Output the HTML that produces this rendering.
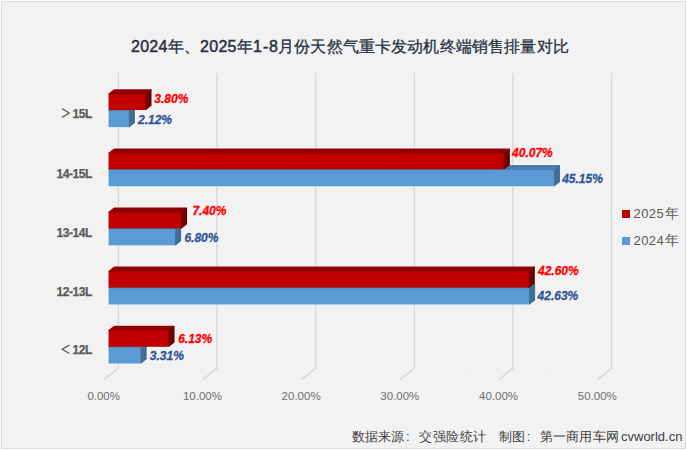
<!DOCTYPE html>
<html><head><meta charset="utf-8">
<style>
html,body{margin:0;padding:0;background:#FFFFFF;}
body{width:687px;height:450px;position:relative;overflow:hidden;font-family:"Liberation Sans",sans-serif;}
.frame{position:absolute;left:1px;top:1px;width:683px;height:446px;background:#F2F2F2;border:1px solid #DBDBDB;}
svg{position:absolute;left:0;top:0;}
.t{position:absolute;white-space:nowrap;line-height:1;}
.title{left:131px;top:39px;font-size:16px;letter-spacing:0.25px;font-weight:normal;-webkit-text-stroke:0.5px #2B3241;color:#2B3241;}
.cj{font-weight:500;-webkit-text-stroke:0.3px #2B3241;}
.cat{font-size:12px;font-weight:bold;color:#595959;text-align:right;width:60px;letter-spacing:-0.42px;-webkit-text-stroke:0.25px #595959;}
.ax{font-size:11.5px;color:#6F6F6F;}
.dl{font-size:12px;font-weight:bold;font-style:italic;-webkit-text-stroke:0.3px currentColor;}
.r{color:#FF0000;} .b{color:#2F5597;}
.leg{font-size:13px;color:#595959;}
.lj{font-size:13.8px;}
.sq{position:absolute;width:8px;height:8px;}
.foot{font-size:13px;color:#404040;}
</style></head><body>
<div class="frame"></div>
<svg width="687" height="450" viewBox="0 0 687 450">
<polyline points="138.03,73 138.03,368.2 123.44,379.7" fill="none" stroke="#F0F0F0" stroke-width="1"/>
<polyline points="157.76,73 157.76,368.2 143.19,379.7" fill="none" stroke="#F0F0F0" stroke-width="1"/>
<polyline points="177.5,73 177.5,368.2 162.93,379.7" fill="none" stroke="#F0F0F0" stroke-width="1"/>
<polyline points="197.23,73 197.23,368.2 182.68,379.7" fill="none" stroke="#F0F0F0" stroke-width="1"/>
<polyline points="236.69,73 236.69,368.2 222.16,379.7" fill="none" stroke="#F0F0F0" stroke-width="1"/>
<polyline points="256.42,73 256.42,368.2 241.91,379.7" fill="none" stroke="#F0F0F0" stroke-width="1"/>
<polyline points="276.16,73 276.16,368.2 261.65,379.7" fill="none" stroke="#F0F0F0" stroke-width="1"/>
<polyline points="295.89,73 295.89,368.2 281.4,379.7" fill="none" stroke="#F0F0F0" stroke-width="1"/>
<polyline points="335.35,73 335.35,368.2 320.88,379.7" fill="none" stroke="#F0F0F0" stroke-width="1"/>
<polyline points="355.08,73 355.08,368.2 340.63,379.7" fill="none" stroke="#F0F0F0" stroke-width="1"/>
<polyline points="374.82,73 374.82,368.2 360.37,379.7" fill="none" stroke="#F0F0F0" stroke-width="1"/>
<polyline points="394.55,73 394.55,368.2 380.12,379.7" fill="none" stroke="#F0F0F0" stroke-width="1"/>
<polyline points="434.01,73 434.01,368.2 419.6,379.7" fill="none" stroke="#F0F0F0" stroke-width="1"/>
<polyline points="453.74,73 453.74,368.2 439.35,379.7" fill="none" stroke="#F0F0F0" stroke-width="1"/>
<polyline points="473.48,73 473.48,368.2 459.09,379.7" fill="none" stroke="#F0F0F0" stroke-width="1"/>
<polyline points="493.21,73 493.21,368.2 478.84,379.7" fill="none" stroke="#F0F0F0" stroke-width="1"/>
<polyline points="532.67,73 532.67,368.2 518.32,379.7" fill="none" stroke="#F0F0F0" stroke-width="1"/>
<polyline points="552.4,73 552.4,368.2 538.07,379.7" fill="none" stroke="#F0F0F0" stroke-width="1"/>
<polyline points="572.14,73 572.14,368.2 557.81,379.7" fill="none" stroke="#F0F0F0" stroke-width="1"/>
<polyline points="591.87,73 591.87,368.2 577.56,379.7" fill="none" stroke="#F0F0F0" stroke-width="1"/>
<polyline points="118.3,73 118.3,368.2 103.7,379.7" fill="none" stroke="#D6D6D6" stroke-width="1.3"/>
<polyline points="216.96,73 216.96,368.2 202.42,379.7" fill="none" stroke="#D6D6D6" stroke-width="1.3"/>
<polyline points="315.62,73 315.62,368.2 301.14,379.7" fill="none" stroke="#D6D6D6" stroke-width="1.3"/>
<polyline points="414.28,73 414.28,368.2 399.86,379.7" fill="none" stroke="#D6D6D6" stroke-width="1.3"/>
<polyline points="512.94,73 512.94,368.2 498.58,379.7" fill="none" stroke="#D6D6D6" stroke-width="1.3"/>
<polyline points="611.6,73 611.6,368.2 597.3,379.7" fill="none" stroke="#D6D6D6" stroke-width="1.3"/>
<polygon points="108.5,127.2 108.5,110.1 114,105.8 134.95,105.8 134.95,122.9 129.45,127.2" fill="none" stroke="#FFFFFF" stroke-opacity="0.8" stroke-width="1.6" stroke-linejoin="round"/>
<polygon points="108.5,110.1 108.5,93.6 114,89.3 151.54,89.3 151.54,105.8 146.04,110.1" fill="none" stroke="#FFFFFF" stroke-opacity="0.8" stroke-width="1.6" stroke-linejoin="round"/>
<rect x="108.5" y="109.5" width="20.95" height="17.7" fill="#5B9BD5"/>
<polygon points="108.5,110.7 108.5,110.1 114,105.8 134.95,105.8 134.95,106.4 129.45,110.7" fill="#4A7EB0"/>
<polygon points="128.85,110.1 129.45,110.1 134.95,105.8 134.95,122.9 129.45,127.2 128.85,127.2" fill="#3F6E99"/>
<rect x="108.5" y="93.6" width="37.54" height="16.5" fill="#C00000"/>
<polygon points="108.5,94.2 108.5,93.6 114,89.3 151.54,89.3 151.54,89.9 146.04,94.2" fill="#8F0000"/>
<polygon points="145.44,93.6 146.04,93.6 151.54,89.3 151.54,105.8 146.04,110.1 145.44,110.1" fill="#6E0000"/>
<polygon points="108.5,186.3 108.5,169.28 114,164.98 560.08,164.98 560.08,182 554.58,186.3" fill="none" stroke="#FFFFFF" stroke-opacity="0.8" stroke-width="1.6" stroke-linejoin="round"/>
<polygon points="108.5,169.28 108.5,152.7 114,148.4 509.89,148.4 509.89,164.98 504.39,169.28" fill="none" stroke="#FFFFFF" stroke-opacity="0.8" stroke-width="1.6" stroke-linejoin="round"/>
<rect x="108.5" y="168.68" width="446.08" height="17.62" fill="#5B9BD5"/>
<polygon points="108.5,169.88 108.5,169.28 114,164.98 560.08,164.98 560.08,165.58 554.58,169.88" fill="#4A7EB0"/>
<polygon points="553.98,169.28 554.58,169.28 560.08,164.98 560.08,182 554.58,186.3 553.98,186.3" fill="#3F6E99"/>
<rect x="108.5" y="152.7" width="395.89" height="16.58" fill="#C00000"/>
<polygon points="108.5,153.3 108.5,152.7 114,148.4 509.89,148.4 509.89,149 504.39,153.3" fill="#8F0000"/>
<polygon points="503.79,152.7 504.39,152.7 509.89,148.4 509.89,164.98 504.39,169.28 503.79,169.28" fill="#6E0000"/>
<polygon points="108.5,245.4 108.5,228.46 114,224.16 181.18,224.16 181.18,241.1 175.68,245.4" fill="none" stroke="#FFFFFF" stroke-opacity="0.8" stroke-width="1.6" stroke-linejoin="round"/>
<polygon points="108.5,228.46 108.5,211.8 114,207.5 187.11,207.5 187.11,224.16 181.61,228.46" fill="none" stroke="#FFFFFF" stroke-opacity="0.8" stroke-width="1.6" stroke-linejoin="round"/>
<rect x="108.5" y="227.86" width="67.18" height="17.54" fill="#5B9BD5"/>
<polygon points="108.5,229.06 108.5,228.46 114,224.16 181.18,224.16 181.18,224.76 175.68,229.06" fill="#4A7EB0"/>
<polygon points="175.08,228.46 175.68,228.46 181.18,224.16 181.18,241.1 175.68,245.4 175.08,245.4" fill="#3F6E99"/>
<rect x="108.5" y="211.8" width="73.11" height="16.66" fill="#C00000"/>
<polygon points="108.5,212.4 108.5,211.8 114,207.5 187.11,207.5 187.11,208.1 181.61,212.4" fill="#8F0000"/>
<polygon points="181.01,211.8 181.61,211.8 187.11,207.5 187.11,224.16 181.61,228.46 181.01,228.46" fill="#6E0000"/>
<polygon points="108.5,304.5 108.5,287.64 114,283.34 535.18,283.34 535.18,300.2 529.68,304.5" fill="none" stroke="#FFFFFF" stroke-opacity="0.8" stroke-width="1.6" stroke-linejoin="round"/>
<polygon points="108.5,287.64 108.5,270.9 114,266.6 534.89,266.6 534.89,283.34 529.39,287.64" fill="none" stroke="#FFFFFF" stroke-opacity="0.8" stroke-width="1.6" stroke-linejoin="round"/>
<rect x="108.5" y="287.04" width="421.18" height="17.46" fill="#5B9BD5"/>
<polygon points="108.5,288.24 108.5,287.64 114,283.34 535.18,283.34 535.18,283.94 529.68,288.24" fill="#4A7EB0"/>
<polygon points="529.08,287.64 529.68,287.64 535.18,283.34 535.18,300.2 529.68,304.5 529.08,304.5" fill="#3F6E99"/>
<rect x="108.5" y="270.9" width="420.89" height="16.74" fill="#C00000"/>
<polygon points="108.5,271.5 108.5,270.9 114,266.6 534.89,266.6 534.89,267.2 529.39,271.5" fill="#8F0000"/>
<polygon points="528.79,270.9 529.39,270.9 534.89,266.6 534.89,283.34 529.39,287.64 528.79,287.64" fill="#6E0000"/>
<polygon points="108.5,363.6 108.5,346.82 114,342.52 146.7,342.52 146.7,359.3 141.2,363.6" fill="none" stroke="#FFFFFF" stroke-opacity="0.8" stroke-width="1.6" stroke-linejoin="round"/>
<polygon points="108.5,346.82 108.5,330 114,325.7 174.56,325.7 174.56,342.52 169.06,346.82" fill="none" stroke="#FFFFFF" stroke-opacity="0.8" stroke-width="1.6" stroke-linejoin="round"/>
<rect x="108.5" y="346.22" width="32.7" height="17.38" fill="#5B9BD5"/>
<polygon points="108.5,347.42 108.5,346.82 114,342.52 146.7,342.52 146.7,343.12 141.2,347.42" fill="#4A7EB0"/>
<polygon points="140.6,346.82 141.2,346.82 146.7,342.52 146.7,359.3 141.2,363.6 140.6,363.6" fill="#3F6E99"/>
<rect x="108.5" y="330" width="60.56" height="16.82" fill="#C00000"/>
<polygon points="108.5,330.6 108.5,330 114,325.7 174.56,325.7 174.56,326.3 169.06,330.6" fill="#8F0000"/>
<polygon points="168.46,330 169.06,330 174.56,325.7 174.56,342.52 169.06,346.82 168.46,346.82" fill="#6E0000"/>
<polyline points="62,108.6 69.2,113 62,117.4" fill="none" stroke="#5F5F5F" stroke-width="1.3"/>
<polyline points="69.4,345.1 62.2,349.3 69.4,353.5" fill="none" stroke="#5F5F5F" stroke-width="1.3"/>
</svg>
<div class="t title">2024<span class="cj">年、</span>2025<span class="cj">年</span>1<span style="margin:0 0.6px 0 0.8px">-</span><span style="letter-spacing:0.15px">8<span class="cj">月份天然气重卡发动机终端销售排量对比</span></span></div>
<div class="t cat" style="left:32px;top:108.1px">15L</div>
<div class="t cat" style="left:32px;top:168.25px">14-15L</div>
<div class="t cat" style="left:32px;top:226.7px">13-14L</div>
<div class="t cat" style="left:32px;top:286.3px">12-13L</div>
<div class="t cat" style="left:32px;top:344.15px">12L</div>
<div class="t ax" style="left:83.7px;top:391px;width:40px;text-align:center">0.00%</div>
<div class="t ax" style="left:182.42px;top:391px;width:40px;text-align:center">10.00%</div>
<div class="t ax" style="left:281.14px;top:391px;width:40px;text-align:center">20.00%</div>
<div class="t ax" style="left:379.86px;top:391px;width:40px;text-align:center">30.00%</div>
<div class="t ax" style="left:478.58px;top:391px;width:40px;text-align:center">40.00%</div>
<div class="t ax" style="left:577.3px;top:391px;width:40px;text-align:center">50.00%</div>
<div class="t dl r" style="left:154.3px;top:92.5px">3.80%</div>
<div class="t dl b" style="left:138px;top:113.8px">2.12%</div>
<div class="t dl r" style="left:512.1px;top:147px">40.07%</div>
<div class="t dl b" style="left:562.2px;top:173.2px">45.15%</div>
<div class="t dl r" style="left:192.4px;top:204.8px">7.40%</div>
<div class="t dl b" style="left:184.4px;top:231.8px">6.80%</div>
<div class="t dl r" style="left:538px;top:265.4px">42.60%</div>
<div class="t dl b" style="left:537.6px;top:290.4px">42.63%</div>
<div class="t dl r" style="left:178.2px;top:332.8px">6.13%</div>
<div class="t dl b" style="left:149.8px;top:350.3px">3.31%</div>
<div class="sq" style="left:622px;top:210px;background:#C00000"></div>
<div class="sq" style="left:622px;top:237px;background:#5B9BD5"></div>
<div class="t leg" style="left:633.5px;top:207px;letter-spacing:0.45px">2025</div><div class="t leg lj" style="left:664.6px;top:206.6px">年</div>
<div class="t leg" style="left:633.5px;top:234px;letter-spacing:0.45px">2024</div><div class="t leg lj" style="left:664.6px;top:233.6px">年</div>
<div class="t foot" style="left:352px;top:430px">数据来源</div>
<div class="t foot" style="left:406px;top:430px">:</div>
<div class="t foot" style="left:419px;top:430px;letter-spacing:0.5px">交强险统计</div>
<div class="t foot" style="left:499px;top:430px">制图</div>
<div class="t foot" style="left:526.7px;top:430px">:</div>
<div class="t foot" style="left:539.5px;top:430px;letter-spacing:0.25px">第一商用车网</div>
<div class="t foot" style="left:621px;top:430px">cvworld.cn</div>
</body></html>
